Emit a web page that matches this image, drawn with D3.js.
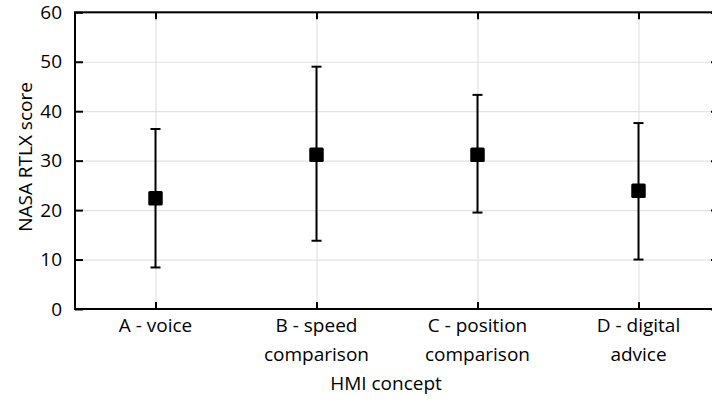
<!DOCTYPE html>
<html>
<head>
<meta charset="utf-8">
<script src="https://cdn.jsdelivr.net/npm/d3@7"></script>
<style>
  html, body { margin: 0; padding: 0; background: #fff; }
  svg { display: block; }
  text { font-family: "Open Sans", "Noto Sans", sans-serif; fill: #000; }
</style>
</head>
<body>
<svg id="chart" width="712" height="406"></svg>
<script>
const categories = ["A - voice", "B - speed comparison", "C - position comparison", "D - digital advice"];
const labelLines = [["A - voice"], ["B - speed", "comparison"], ["C - position", "comparison"], ["D - digital", "advice"]];
const means = [22.4, 31.2, 31.2, 23.9];
const lowerValues = [8.4, 13.8, 19.5, 10.0];
const upperValues = [36.4, 49.0, 43.3, 37.6];
const yTicks = [0, 10, 20, 30, 40, 50, 60];
const yTitle = "NASA RTLX score";
const xTitle = "HMI concept";

const FS = 19;
const svg = d3.select("#chart");
const m = { left: 75, right: 719, top: 12.3, bottom: 309 };
const W = m.right - m.left, H = m.bottom - m.top;

const x = d3.scalePoint().domain(categories).range([m.left, m.right]).padding(0.5);
const y = d3.scaleLinear().domain([0, 60]).range([m.bottom, m.top]);

// grid
const gy = svg.append("g").attr("transform", `translate(${m.left},0)`)
  .call(d3.axisLeft(y).tickValues(yTicks).tickSize(-W).tickFormat(""));
gy.select(".domain").remove();
gy.selectAll("line").attr("stroke", "#e2e2e2").attr("stroke-width", 1.2);
const gx = svg.append("g").attr("transform", `translate(0,${m.bottom})`)
  .call(d3.axisBottom(x).tickSize(-H).tickFormat(""));
gx.select(".domain").remove();
gx.selectAll("line").attr("stroke", "#e2e2e2").attr("stroke-width", 1.2);

// inward ticks
const tl = svg.append("g").attr("transform", `translate(${m.left},0)`)
  .call(d3.axisLeft(y).tickValues(yTicks).tickSizeInner(-8).tickSizeOuter(0).tickPadding(13));
tl.select(".domain").remove();
tl.selectAll("line").attr("stroke", "#000").attr("stroke-width", 2);
tl.selectAll("text").attr("font-size", FS).attr("font-family", '"Open Sans", sans-serif').attr("fill", "#000");

const tr = svg.append("g").attr("transform", `translate(${m.right},0)`)
  .call(d3.axisRight(y).tickValues(yTicks).tickSizeInner(-8).tickSizeOuter(0).tickFormat(""));
tr.select(".domain").remove();
tr.selectAll("line").attr("stroke", "#000").attr("stroke-width", 2);

const tb = svg.append("g").attr("transform", `translate(0,${m.bottom})`)
  .call(d3.axisBottom(x).tickSizeInner(-7).tickSizeOuter(0).tickFormat(""));
tb.select(".domain").remove();
tb.selectAll("line").attr("stroke", "#000").attr("stroke-width", 2);

const tt = svg.append("g").attr("transform", `translate(0,${m.top})`)
  .call(d3.axisTop(x).tickSizeInner(-7).tickSizeOuter(0).tickFormat(""));
tt.select(".domain").remove();
tt.selectAll("line").attr("stroke", "#000").attr("stroke-width", 2);

// frame
svg.append("rect").attr("x", m.left).attr("y", m.top).attr("width", W).attr("height", H)
  .attr("fill", "none").attr("stroke", "#000").attr("stroke-width", 2);

// x labels
categories.forEach((c, i) => {
  const t = svg.append("text").attr("x", x(c)).attr("y", 332).attr("text-anchor", "middle").attr("font-size", FS);
  labelLines[i].forEach((ln, j) => {
    t.append("tspan").attr("x", x(c)).attr("dy", j === 0 ? 0 : 29).text(ln);
  });
});

// titles
svg.append("text").attr("x", 386).attr("y", 390).attr("text-anchor", "middle")
  .attr("font-size", FS).text(xTitle);
svg.append("text").attr("transform", `translate(32,157) rotate(-90)`)
  .attr("text-anchor", "middle").attr("font-size", FS).text(yTitle);

// error bars
const capW = 10;
const g = svg.append("g");
categories.forEach((c, i) => {
  const cx = x(c);
  g.append("line").attr("x1", cx).attr("x2", cx).attr("y1", y(lowerValues[i])).attr("y2", y(upperValues[i]))
    .attr("stroke", "#000").attr("stroke-width", 2);
  [lowerValues[i], upperValues[i]].forEach(v => {
    g.append("line").attr("x1", cx - capW / 2).attr("x2", cx + capW / 2).attr("y1", y(v)).attr("y2", y(v))
      .attr("stroke", "#000").attr("stroke-width", 2);
  });
  const s = 14.5;
  g.append("rect").attr("x", cx - s / 2).attr("y", y(means[i]) - s / 2).attr("width", s).attr("height", s)
    .attr("rx", 1.5).attr("fill", "#000");
});
</script>
</body>
</html>
